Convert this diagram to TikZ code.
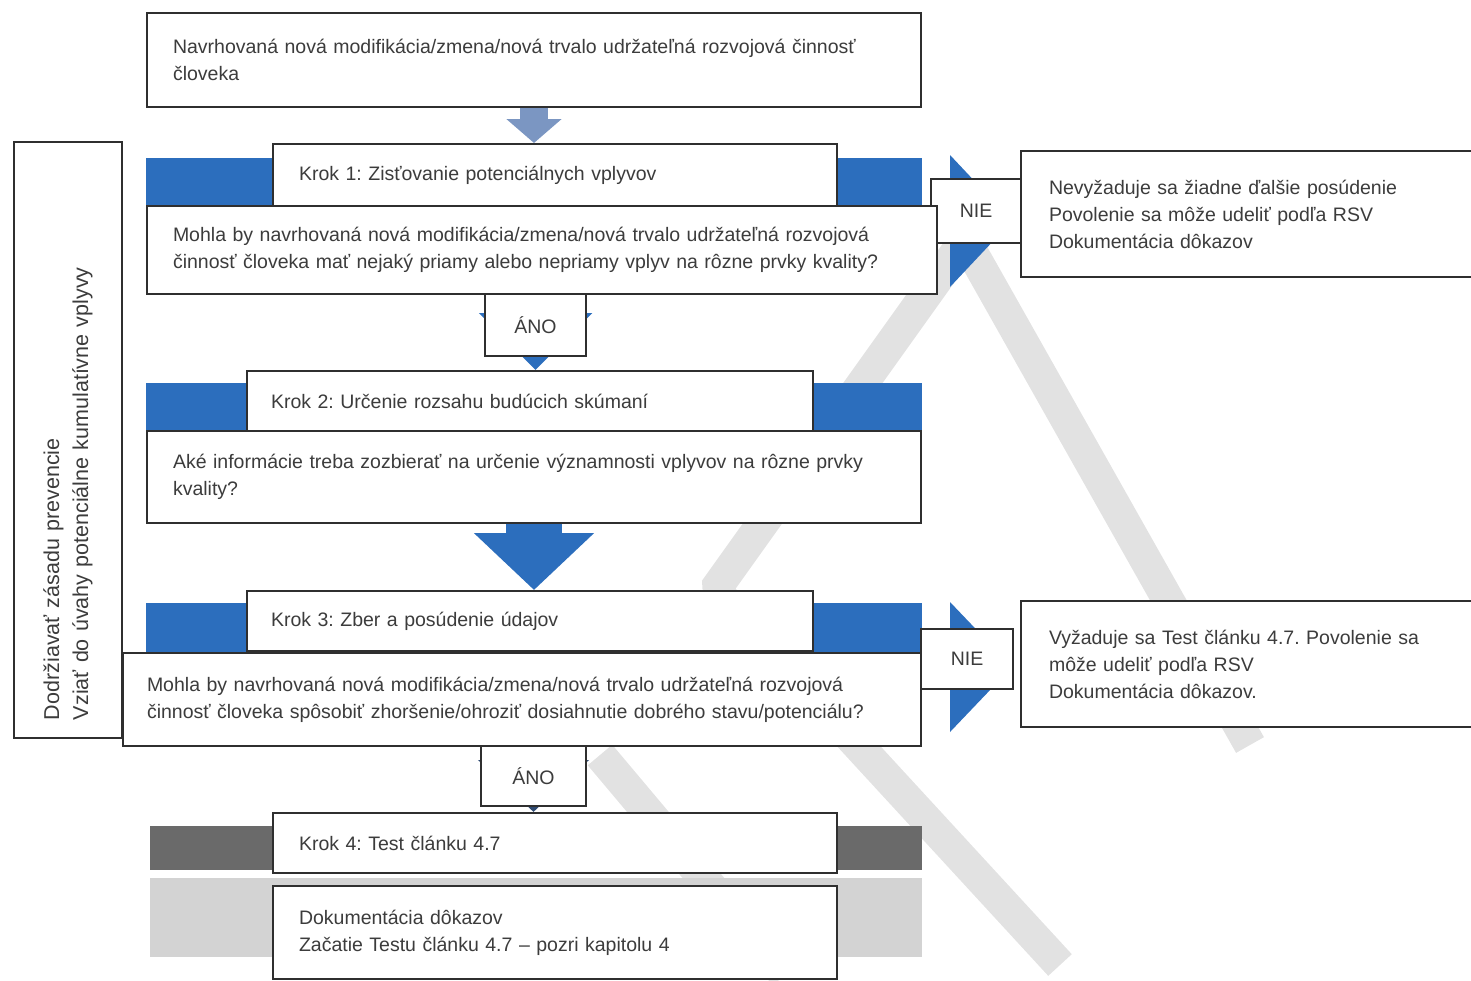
\documentclass[tikz,border=0pt]{standalone}
\usepackage{fontspec}
\setmainfont{Liberation Sans}
\usetikzlibrary{arrows.meta}
\usetikzlibrary{positioning}
\usetikzlibrary{backgrounds}
\definecolor{stepblue}{HTML}{2C6EBD}
\definecolor{arrowsteel}{HTML}{7B96C2}
\definecolor{arrownavy}{HTML}{2E4A72}
\definecolor{stepgrey}{HTML}{6A6A6A}
\definecolor{lightbar}{HTML}{D3D3D3}
\definecolor{markgrey}{HTML}{E2E2E2}
\definecolor{boxline}{HTML}{2F2F2F}
\definecolor{txt}{HTML}{3C3C3C}
\tikzset{>=latex}
\tikzstyle{box} = [rectangle, draw=boxline, line width=2pt, fill=white, anchor=north west, align=left, inner xsep=26pt, inner ysep=0pt, text=txt]
\tikzstyle{tag} = [rectangle, draw=boxline, line width=2pt, fill=white, anchor=north west, inner sep=0pt, text=txt]
\tikzstyle{bar} = [fill=stepblue, draw=none]
\frenchspacing

\begin{document}
\begin{tikzpicture}[x=1pt, y=-1pt, font=\fontsize{19.5}{27}\selectfont]
\useasboundingbox (0,0) rectangle (1471,980);
% main column
\node [box, minimum width=774pt, minimum height=94pt, text width=722pt] (top) at (146,12) {Navrhovaná nová modifikácia/zmena/nová trvalo udržateľná rozvojová činnosť\\človeka};
\node [box, minimum width=564pt, minimum height=62pt, text width=512pt] (k1) at (272,143) {Krok 1: Zisťovanie potenciálnych vplyvov};
\node [tag, minimum width=90pt, minimum height=64pt] (nie1) at (930,178) {NIE};
\node [box, minimum width=790pt, minimum height=88pt, text width=738pt] (q1) at (146,205) {Mohla by navrhovaná nová modifikácia/zmena/nová trvalo udržateľná rozvojová\\činnosť človeka mať nejaký priamy alebo nepriamy vplyv na rôzne prvky kvality?};
\node [tag, minimum width=101pt, minimum height=62pt] (ano1) at (484,293) {ÁNO};
\node [box, minimum width=566pt, minimum height=60pt, inner xsep=24pt, text width=518pt] (k2) at (246,370) {Krok 2: Určenie rozsahu budúcich skúmaní};
\node [box, minimum width=774pt, minimum height=92pt, text width=722pt] (q2) at (146,430) {Aké informácie treba zozbierať na určenie významnosti vplyvov na rôzne prvky\\kvality?};
\node [box, minimum width=566pt, minimum height=60pt, inner xsep=24pt, text width=518pt] (k3) at (246,590) {Krok 3: Zber a posúdenie údajov};
\node [tag, minimum width=92pt, minimum height=60pt] (nie2) at (920,628) {NIE};
\node [box, minimum width=798pt, minimum height=93pt, inner xsep=24pt, text width=750pt] (q3) at (122,652) {Mohla by navrhovaná nová modifikácia/zmena/nová trvalo udržateľná rozvojová\\činnosť človeka spôsobiť zhoršenie/ohroziť dosiahnutie dobrého stavu/potenciálu?};
\node [tag, minimum width=105pt, minimum height=60pt] (ano2) at (480,745) {ÁNO};
\node [box, minimum width=564pt, minimum height=60pt, text width=512pt] (k4) at (272,812) {Krok 4: Test článku 4.7};
\node [box, minimum width=564pt, minimum height=93pt, text width=512pt] (last) at (272,885) {Dokumentácia dôkazov\\Začatie Testu článku 4.7 -- pozri kapitolu 4};
% outcomes
\node [box, minimum width=460pt, minimum height=126pt, inner xsep=28pt, text width=404pt] (r1) at (1020,150) {Nevyžaduje sa žiadne ďalšie posúdenie\\Povolenie sa môže udeliť podľa RSV\\Dokumentácia dôkazov};
\node [box, minimum width=460pt, minimum height=126pt, inner xsep=28pt, text width=404pt] (r2) at (1020,600) {Vyžaduje sa Test článku 4.7. Povolenie sa\\môže udeliť podľa RSV\\Dokumentácia dôkazov.};
% side note
\node [box, rotate=90, anchor=center, minimum width=596pt, minimum height=108pt, inner xsep=18pt, text width=560pt, font=\fontsize{21.5}{29}\selectfont] (side) at (68,440) {Dodržiavať zásadu prevencie\\Vziať do úvahy potenciálne kumulatívne vplyvy};

\begin{scope}[on background layer]
% watermark
\draw [markgrey, line width=32pt, line join=bevel] (1250,745) -- (965,240) -- (715,590) -- (1060,965);
\draw [markgrey, line width=32pt] (600,755) -- (785,975);
% step bars
\fill [bar] (146,158) rectangle (922,290);
\fill [bar] (950,155) -- (1012,221) -- (950,287) -- cycle;
\fill [bar] (146,383) rectangle (922,500);
\fill [bar] (146,603) rectangle (922,720);
\fill [bar] (950,602) -- (1012,667) -- (950,732) -- cycle;
\fill [stepgrey] (150,826) rectangle (922,870);
\fill [lightbar] (150,878) rectangle (922,957);
% down arrows
\draw [-{Triangle[length=24pt, width=54pt]}, line width=28pt, arrowsteel] (top.south) -- (top.south |- k1.north);
\draw [-{Triangle[length=57pt, width=110pt]}, line width=50pt, stepblue] (ano1.north) -- (ano1.north |- k2.north);
\draw [-{Triangle[length=57pt, width=117pt]}, line width=56pt, stepblue] (q2.south) -- (q2.south |- k3.north);
\draw [-{Triangle[length=52pt, width=108pt]}, line width=40pt, arrownavy] (ano2.north) -- (ano2.north |- k4.north);
\end{scope}
\end{tikzpicture}
\end{document}
